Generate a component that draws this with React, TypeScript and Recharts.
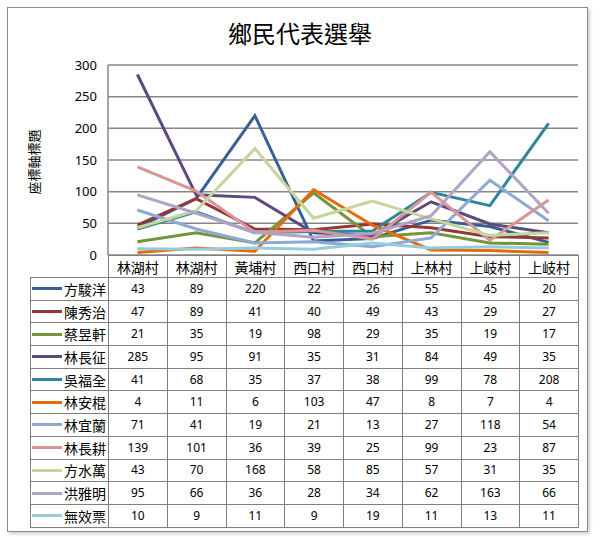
import { CartesianGrid, Line, LineChart, XAxis, YAxis } from 'recharts'

const categories = ['林湖村', '林湖村', '黃埔村', '西口村', '西口村', '上林村', '上岐村', '上岐村']
const yTicks = [0, 50, 100, 150, 200, 250, 300]

const fangJunyang = [43, 89, 220, 22, 26, 55, 45, 20]
const chenXiuzhi = [47, 89, 41, 40, 49, 43, 29, 27]
const caiYuxuan = [21, 35, 19, 98, 29, 35, 19, 17]
const linChangzheng = [285, 95, 91, 35, 31, 84, 49, 35]
const wuFuquan = [41, 68, 35, 37, 38, 99, 78, 208]
const linAngun = [4, 11, 6, 103, 47, 8, 7, 4]
const linYilan = [71, 41, 19, 21, 13, 27, 118, 54]
const linChanggeng = [139, 101, 36, 39, 25, 99, 23, 87]
const fangShuiwan = [43, 70, 168, 58, 85, 57, 31, 35]
const hongYaming = [95, 66, 36, 28, 34, 62, 163, 66]
const invalidVotes = [10, 9, 11, 9, 19, 11, 13, 11]

const series = [
  { key: 's0', name: '方駿洋', values: fangJunyang, color: '#376092' },
  { key: 's1', name: '陳秀治', values: chenXiuzhi, color: '#953735' },
  { key: 's2', name: '蔡昱軒', values: caiYuxuan, color: '#77933C' },
  { key: 's3', name: '林長征', values: linChangzheng, color: '#5F497A' },
  { key: 's4', name: '吳福全', values: wuFuquan, color: '#31859C' },
  { key: 's5', name: '林安棍', values: linAngun, color: '#E46C0A' },
  { key: 's6', name: '林宜蘭', values: linYilan, color: '#8EA9D3' },
  { key: 's7', name: '林長耕', values: linChanggeng, color: '#D99694' },
  { key: 's8', name: '方水萬', values: fangShuiwan, color: '#C3D69B' },
  { key: 's9', name: '洪雅明', values: hongYaming, color: '#B3A2C7' },
  { key: 's10', name: '無效票', values: invalidVotes, color: '#93CDDD' },
]

const data = categories.map((name, i) => {
  const row: Record<string, number | string> = { idx: i, name }
  series.forEach((s) => {
    row[s.key] = s.values[i]
  })
  return row
})

const CJK = '"Noto Sans CJK TC", "Noto Sans", sans-serif'
const NUM = '"Noto Sans", sans-serif'
const border = '1.5px solid #7f7f7f'

export default function App() {
  return (
    <div
      style={{
        position: 'absolute',
        left: 0,
        top: 0,
        width: 600,
        height: 537,
        background: '#fff',
        overflow: 'hidden',
      }}
    >
      <div
        style={{
          position: 'absolute',
          left: 7,
          top: 7,
          width: 579,
          height: 523,
          border: '1.5px solid #8c8c8c',
          boxShadow: '2px 2px 3px #d0d0d0',
        }}
      />
      <div
        style={{
          position: 'absolute',
          top: 15,
          left: 0,
          width: 600,
          textAlign: 'center',
          fontFamily: CJK,
          fontSize: 24,
          lineHeight: '36px',
          color: '#000',
        }}
      >
        鄉民代表選舉
      </div>
      <div
        style={{
          position: 'absolute',
          left: 33,
          top: 162,
          transform: 'translate(-50%, -50%) rotate(-90deg)',
          fontFamily: CJK,
          fontSize: 13,
          whiteSpace: 'nowrap',
          color: '#000',
        }}
      >
        座標軸標題
      </div>
      <div style={{ position: 'absolute', left: 0, top: 0 }}>
        <LineChart
          width={600}
          height={537}
          data={data}
          margin={{ top: 65, right: 22, bottom: 282, left: 60 }}
        >
          <CartesianGrid vertical={false} stroke="#868686" strokeWidth={1.5} />
          <XAxis dataKey="idx" type="category" scale="band" hide />
          <YAxis
            width={48}
            domain={[0, 300]}
            ticks={yTicks}
            interval={0}
            tickLine={false}
            axisLine={{ stroke: '#868686', strokeWidth: 1.5 }}
            tick={{ fill: '#000', fontSize: 13, fontFamily: NUM, dx: -3 }}
          />
          {series.map((s) => (
            <Line
              key={s.key}
              type="linear"
              dataKey={s.key}
              name={s.name}
              stroke={s.color}
              strokeWidth={3}
              dot={false}
              isAnimationActive={false}
            />
          ))}
        </LineChart>
      </div>
      <table
        style={{
          position: 'absolute',
          left: 30,
          top: 255,
          borderCollapse: 'collapse',
          tableLayout: 'fixed',
          width: 548,
          color: '#000',
        }}
      >
        <colgroup>
          <col style={{ width: 78 }} />
          {categories.map((_, i) => (
            <col key={i} style={{ width: 58.75 }} />
          ))}
        </colgroup>
        <tbody>
          <tr style={{ height: 22 }}>
            <td style={{ padding: 0 }} />
            {categories.map((c, i) => (
              <td
                key={i}
                style={{
                  border,
                  padding: 0,
                  textAlign: 'center',
                  fontFamily: CJK,
                  fontSize: 14,
                  lineHeight: '20px',
                }}
              >
                {c}
              </td>
            ))}
          </tr>
          {series.map((s) => (
            <tr key={s.key} style={{ height: 22.7 }}>
              <td style={{ border, padding: 0 }}>
                <div style={{ display: 'flex', alignItems: 'center', height: 20 }}>
                  <span
                    style={{
                      display: 'inline-block',
                      width: 30,
                      height: 3,
                      marginLeft: 1,
                      background: s.color,
                    }}
                  />
                  <span
                    style={{
                      flex: 1,
                      textAlign: 'right',
                      paddingRight: 2,
                      fontFamily: CJK,
                      fontSize: 14,
                      lineHeight: '20px',
                      whiteSpace: 'nowrap',
                    }}
                  >
                    {s.name}
                  </span>
                </div>
              </td>
              {s.values.map((v, i) => (
                <td
                  key={i}
                  style={{
                    border,
                    padding: 0,
                    textAlign: 'center',
                    fontFamily: NUM,
                    fontSize: 12,
                    lineHeight: '20px',
                  }}
                >
                  {v}
                </td>
              ))}
            </tr>
          ))}
        </tbody>
      </table>
    </div>
  )
}
